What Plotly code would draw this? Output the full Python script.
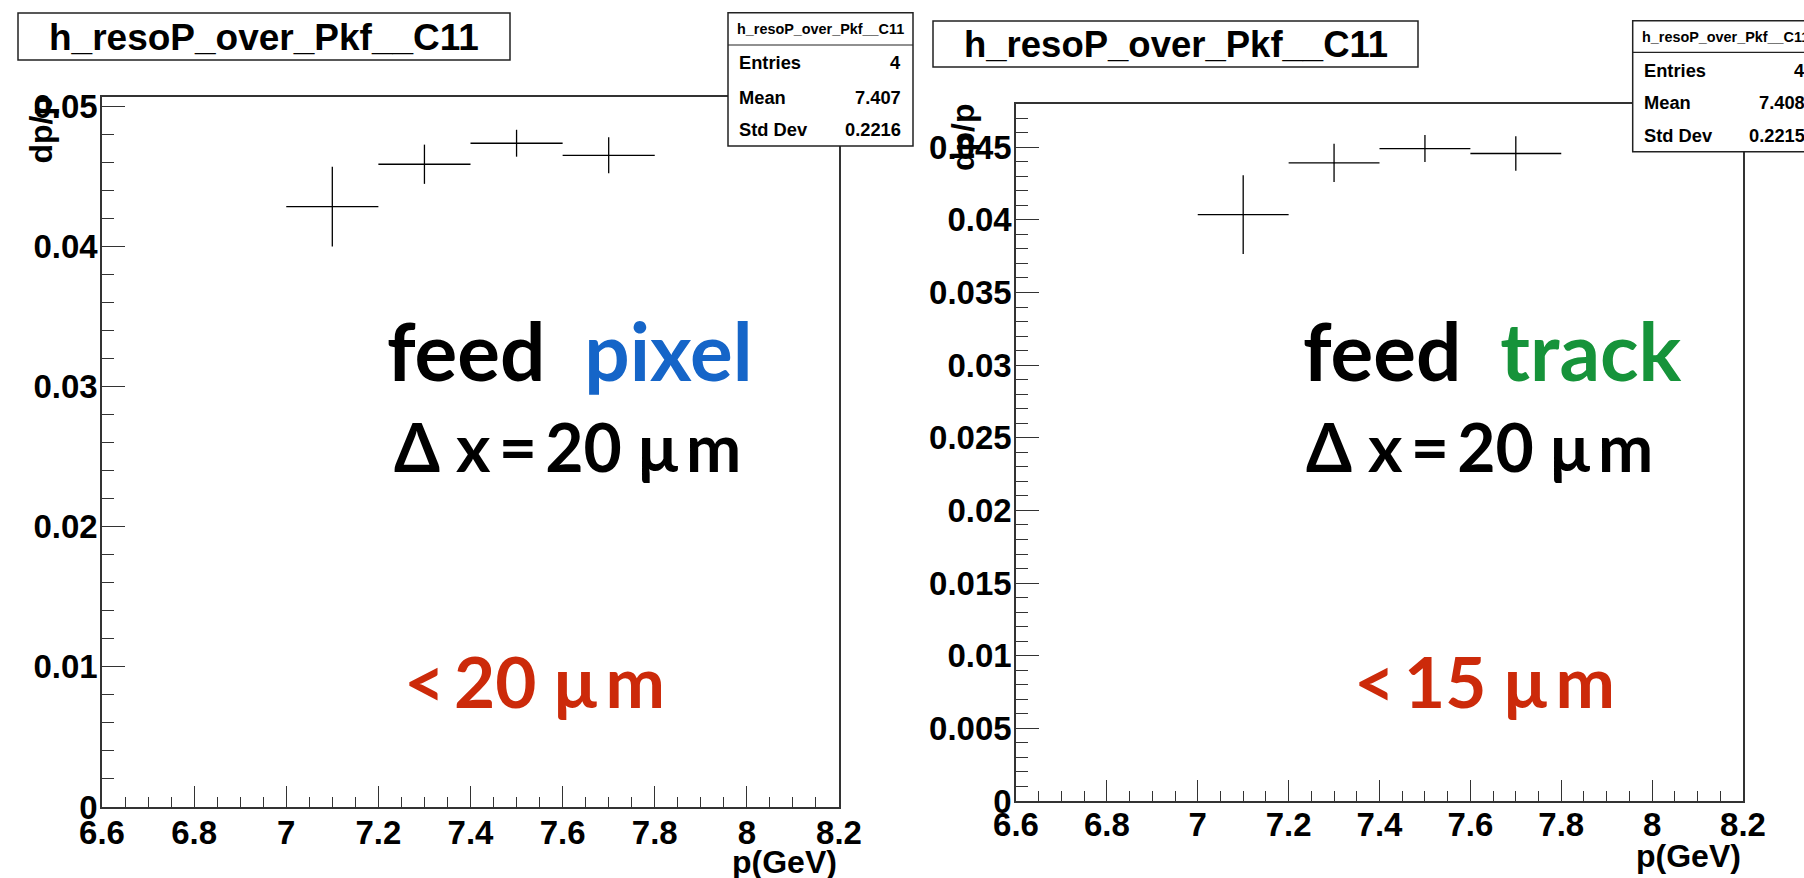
import plotly.graph_objects as go

W, H = 1804, 878

# ---------------- data ----------------
p_centers = [7.1, 7.3, 7.5, 7.7]
p_halfwidth = [0.1, 0.1, 0.1, 0.1]
pixel_dpp = [0.04286, 0.04588, 0.04738, 0.04652]
pixel_err = [0.00285, 0.00140, 0.00096, 0.00128]
track_dpp = [0.04036, 0.04392, 0.04491, 0.04457]
track_err = [0.00271, 0.00132, 0.00093, 0.00119]

x_tick_vals = [6.6, 6.8, 7.0, 7.2, 7.4, 7.6, 7.8, 8.0, 8.2]
x_tick_text = ["6.6", "6.8", "7", "7.2", "7.4", "7.6", "7.8", "8", "8.2"]
y1_tick_vals = [0, 0.01, 0.02, 0.03, 0.04, 0.05]
y1_tick_text = ["0", "0.01", "0.02", "0.03", "0.04", "0.05"]
y2_tick_vals = [0, 0.005, 0.01, 0.015, 0.02, 0.025, 0.03, 0.035, 0.04, 0.045]
y2_tick_text = ["0", "0.005", "0.01", "0.015", "0.02", "0.025", "0.03", "0.035", "0.04", "0.045"]

hist_name = "h_resoP_over_Pkf__C11"
stats_left = [("Entries", "4"), ("Mean", "7.407"), ("Std Dev", "0.2216")]
stats_right = [("Entries", "4"), ("Mean", "7.408"), ("Std Dev", "0.2215")]

# ---------------- helpers ----------------
def px(x):
    return x / W


def py(y):
    return 1 - y / H


FONT = "Liberation Sans, Arial, Helvetica, sans-serif"
HAND = "Lato, 'Open Sans', sans-serif"
AX = "#333333"

fig = go.Figure()

for xa, ya, yv, ye in [("x", "y", pixel_dpp, pixel_err), ("x2", "y2", track_dpp, track_err)]:
    fig.add_trace(go.Scatter(
        x=p_centers, y=yv, xaxis=xa, yaxis=ya, mode="markers",
        marker=dict(size=1, color="black"),
        error_x=dict(type="data", array=p_halfwidth, width=0, thickness=1.3, color="black"),
        error_y=dict(type="data", array=ye, width=0, thickness=1.3, color="black"),
        hoverinfo="skip", showlegend=False,
    ))


def xaxis_cfg(x0, x1, anchor, standoff):
    return dict(
        domain=[px(x0), px(x1)], anchor=anchor, range=[6.6, 8.2], automargin=False,
        tickvals=x_tick_vals, ticktext=x_tick_text,
        ticks="inside", ticklen=21, tickwidth=1.2, tickcolor=AX,
        minor=dict(dtick=0.05, tick0=6.6, ticks="inside", ticklen=10, tickwidth=1.2, tickcolor=AX, showgrid=False),
        showline=True, linecolor=AX, linewidth=1.5, mirror=True,
        showgrid=False, zeroline=False,
        tickfont=dict(family=FONT, size=33, color="black", weight="bold"),
        ticklabelstandoff=standoff,
    )


def yaxis_cfg(y0, y1, anchor, rng, tv, tt, mdt):
    return dict(
        domain=[py(y1), py(y0)], anchor=anchor, range=rng, automargin=False,
        tickvals=tv, ticktext=tt,
        ticks="inside", ticklen=23, tickwidth=1.2, tickcolor=AX,
        minor=dict(dtick=mdt, tick0=0, ticks="inside", ticklen=12, tickwidth=1.2, tickcolor=AX, showgrid=False),
        showline=True, linecolor=AX, linewidth=1.5, mirror=True,
        showgrid=False, zeroline=False,
        tickfont=dict(family=FONT, size=33, color="black", weight="bold"),
        ticklabelstandoff=-4,
    )


fig.update_layout(
    width=W, height=H, margin=dict(l=0, r=0, t=0, b=0, pad=0, autoexpand=False),
    paper_bgcolor="white", plot_bgcolor="white", showlegend=False,
    xaxis=xaxis_cfg(102, 839, "y", -4),
    yaxis=yaxis_cfg(97, 807, "x", [0, 0.05068], y1_tick_vals, y1_tick_text, 0.002),
    xaxis2=xaxis_cfg(1016, 1743, "y2", -6),
    yaxis2=yaxis_cfg(103.5, 801, "x2", [0, 0.04801], y2_tick_vals, y2_tick_text, 0.001),
)

shapes = []
annotations = []


def box(x0, y0, x1, y1):
    shapes.append(dict(type="rect", xref="paper", yref="paper",
                       x0=px(x0), x1=px(x1), y0=py(y1), y1=py(y0),
                       line=dict(color="#222", width=1.5), fillcolor="white", layer="above"))


def text(x, y, s, size, xanchor="center", yanchor="middle", color="black", family=FONT, weight="bold", angle=0):
    annotations.append(dict(xref="paper", yref="paper", x=px(x), y=py(y), text=s, showarrow=False,
                            xanchor=xanchor, yanchor=yanchor, textangle=angle,
                            font=dict(family=family, size=size, color=color, weight=weight)))


# title boxes
box(18, 13, 510, 60)
text(264, 37, hist_name, 37)
box(933, 21, 1418, 67)
text(1175.5, 44.5, hist_name, 36.5)

# stat boxes
for (bx, by, bb, sep, rows, ys) in [
    (728, 12.7, 146, 45, stats_left, [63, 97, 130]),
    (1632.7, 20.7, 151.7, 52.3, stats_right, [71, 103, 135]),
]:
    box(bx, by, bx + 185, bb)
    shapes.append(dict(type="line", xref="paper", yref="paper", x0=px(bx), x1=px(bx + 185),
                       y0=py(sep), y1=py(sep), line=dict(color="#222", width=1.2), layer="above"))
    text(bx + 92.5, (by + sep) / 2, hist_name, 14.4)
    for (lab, val), yy in zip(rows, ys):
        text(bx + 9, yy, lab, 18.3, xanchor="left")
        text(bx + 174.5, yy, val, 18.3, xanchor="right")

# axis titles
text(839, 862, "p(GeV)", 32, xanchor="right")
text(1743, 856, "p(GeV)", 32, xanchor="right")
text(40.5, 130, "dp/p", 32, angle=-90)
text(963.5, 137.5, "dp/p", 32, angle=-90)

# handwritten notes
BLUE = "#1565c8"
GREEN = "#16933a"
RED = "#cc2a0a"
TS = "\u2009"
NB = "\u00a0"
text(570, 350, "feed%s%s<span style='color:%s'>pixel</span>" % (NB, NB, BLUE), 80, family=HAND)
text(567, 446, "\u0394 x%s=%s20 \u03bc%sm" % (TS, TS, TS), 66, family=HAND)
text(534, 680, "<%s20 \u03bc%sm" % (TS, TS), 71, color=RED, family=HAND)
text(1492, 350, "feed%s%s<span style='color:%s'>track</span>" % (NB, NB, GREEN), 80, family=HAND)
text(1479, 446, "\u0394 x%s=%s20 \u03bc%sm" % (TS, TS, TS), 66, family=HAND)
text(1484, 680, "<%s15 \u03bc%sm" % (TS, TS), 71, color=RED, family=HAND)

fig.update_layout(shapes=shapes, annotations=annotations)
fig.write_html("out.html")
